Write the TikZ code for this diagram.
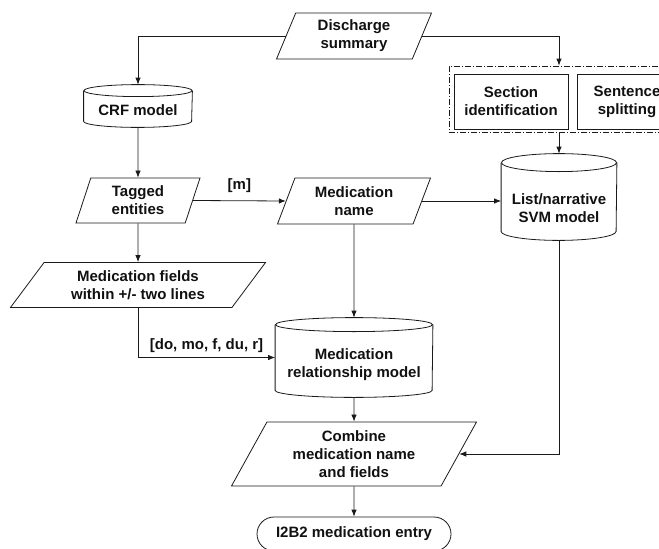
\documentclass[tikz,border=0pt]{standalone}
\usepackage{fontspec}
\setmainfont{Liberation Sans}
\usetikzlibrary{arrows.meta,positioning,shapes.geometric,shapes.misc}
\definecolor{fcline}{HTML}{1A1A1A}
\definecolor{fctext}{HTML}{111111}
\tikzset{
  base/.style={draw=fcline,line width=0.8pt,text=fctext,align=center,inner sep=0pt,
    font=\bfseries\fontsize{15}{18}\selectfont},
  datain/.style={base,trapezium,trapezium stretches body,
    trapezium left angle=#1,trapezium right angle={180-#1}},
  store/.style={base,draw=none,rectangle},
  stepbox/.style={base,rectangle},
  endbox/.style={base,rounded rectangle},
  cylline/.style={draw=fcline,line width=0.8pt},
  flow/.style={draw=fcline,line width=0.8pt,-{Latex[length=7pt,width=5.5pt]}},
  tag/.style={text=fctext,align=center,font=\bfseries\fontsize{15}{18}\selectfont}
}
\begin{document}
\begin{tikzpicture}[x=1pt,y=-1pt]
    \useasboundingbox (0,0) rectangle (659,549);
    \node[datain=59,minimum width=155pt,minimum height=46pt] (disch) at (354,36) {Discharge\\summary};
    \node[store,minimum width=108pt,minimum height=42pt] (crf) at (138,106) {};
    \node[tag] (crftext) at ([yshift=-4pt]crf.center) {CRF model};
    \node[datain=63,minimum width=124pt,minimum height=45pt] (tagged) at (138,200.5) {Tagged\\entities};
    \node[datain=59,minimum width=153pt,minimum height=46pt] (medname) at (354,201) {Medication\\name};
    \node[datain=41,minimum width=255pt,minimum height=45pt] (fields) at (138,285) {Medication fields\\within +/- two lines};
    \node[store,minimum width=157pt,minimum height=79pt] (rel) at (354,357.5) {};
    \node[tag] (reltext) at ([yshift=-7pt]rel.center) {Medication\\relationship model};
    \node[datain=53,minimum width=245pt,minimum height=64pt] (combine) at (354,454) {Combine\\medication name\\and fields};
    \node[endbox,minimum width=194pt,minimum height=34pt] (entry) at (354,534) {I2B2 medication entry};
    \node[draw=fcline,line width=0.8pt,dash pattern=on 6pt off 2pt on 1pt off 2pt,
      minimum width=220pt,minimum height=66pt] (prep) at (559,99) {};
    \node[stepbox,minimum width=114pt,minimum height=55pt] (section) at (511,101.5) {Section\\identification};
    \node[stepbox,minimum width=100pt,minimum height=55pt] (sentence) at (627,101.5) {Sentence\\splitting};
    \node[store,minimum width=115pt,minimum height=86pt] (svm) at (559,197) {};
    \node[tag] (svmtext) at ([yshift=-11pt]svm.center) {List/narrative\\SVM model};

    \foreach \cyl/\rx/\ry in {crf/54/6,rel/78.5/7,svm/57.5/9}{
      \draw[cylline] ([yshift=-\ry pt]\cyl.north) ellipse [x radius=\rx pt,y radius=\ry pt];
      \draw[cylline] ([yshift=-\ry pt]\cyl.north west) -- ([yshift=\ry pt]\cyl.south west)
        arc[start angle=180,end angle=360,x radius=\rx pt,y radius=\ry pt] -- ([yshift=-\ry pt]\cyl.north east);
    }

    \draw[flow] (disch.west) -| (crf.north);
    \draw[flow] (disch.east) -| (prep.north);
    \draw[flow] (crf.south) -- (tagged.north);
    \draw[flow] (tagged.east) -- (medname.west) node[tag,midway,above=4pt] {[m]};
    \draw[flow] (medname.east) -- (medname.east -| svm.west);
    \draw[flow] (prep.south) -- (svm.north);
    \draw[flow] (tagged.south) -- (fields.north);
    \draw[flow] (fields.south) |- (rel.west) node[tag,pos=0.75,above=1pt] {[do, mo, f, du, r]};
    \draw[flow] (medname.south) -- (rel.north);
    \draw[flow] (rel.south) -- (combine.north);
    \draw[flow] (svm.south) |- (combine.east);
    \draw[flow] (combine.south) -- (entry.north);
\end{tikzpicture}
\end{document}
